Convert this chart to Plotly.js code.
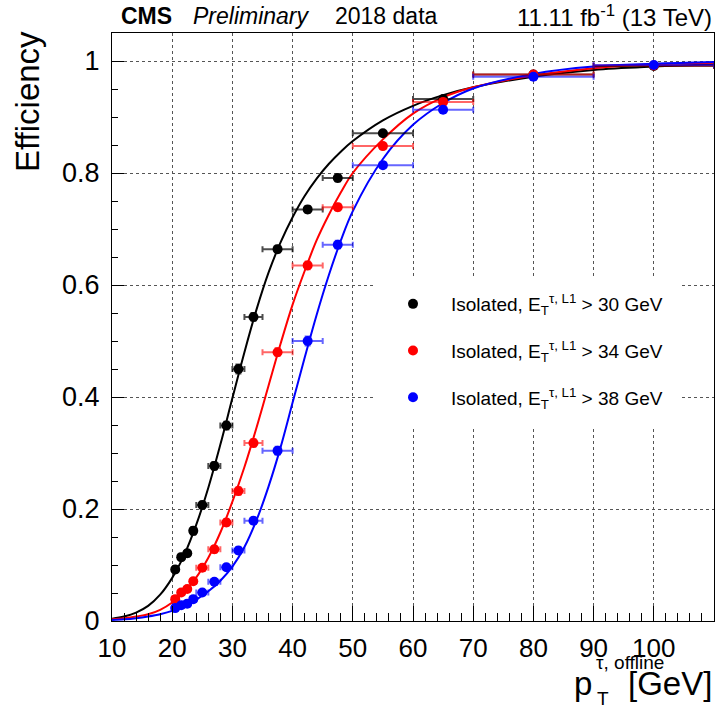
<!DOCTYPE html>
<html>
<head>
<meta charset="utf-8">
<script src="https://cdn.plot.ly/plotly-3.0.1.min.js"></script>
<style>html,body{margin:0;padding:0;background:#fff;}</style>
</head>
<body>
<div id="chart" style="width:720px;height:714px;"></div>
<script>
// ---- data ----
const ptCenter    = [20.5, 21.5, 22.5, 23.5, 25, 27, 29, 31, 33.5, 37.5, 42.5, 47.5, 55, 65, 80, 100];
const ptHalfWidth = [0.5, 0.5, 0.5, 0.5, 1, 1, 1, 1, 1.5, 2.5, 2.5, 2.5, 5, 5, 10, 10];

const effIso30 = [0.092, 0.114, 0.121, 0.161, 0.207, 0.277, 0.349, 0.450, 0.543, 0.664, 0.735, 0.791, 0.871, 0.932, 0.976, 0.991];
const effIso34 = [0.039, 0.051, 0.057, 0.071, 0.095, 0.128, 0.176, 0.232, 0.318, 0.480, 0.635, 0.739, 0.848, 0.927, 0.976, 0.992];
const effIso38 = [0.023, 0.028, 0.031, 0.039, 0.051, 0.070, 0.096, 0.126, 0.179, 0.304, 0.500, 0.672, 0.814, 0.913, 0.972, 0.993];

const errIso30 = [0.006, 0.006, 0.006, 0.007, 0.006, 0.007, 0.007, 0.008, 0.007, 0.006, 0.006, 0.006, 0.004, 0.004, 0.003, 0.003];
const errIso34 = [0.004, 0.004, 0.004, 0.005, 0.005, 0.006, 0.006, 0.007, 0.007, 0.007, 0.007, 0.006, 0.005, 0.004, 0.003, 0.003];
const errIso38 = [0.003, 0.003, 0.003, 0.004, 0.004, 0.005, 0.005, 0.006, 0.006, 0.007, 0.008, 0.007, 0.005, 0.004, 0.003, 0.003];

// fitted curves
const fitPt    = [10, 12, 14, 16, 18, 20, 22, 24, 26, 28, 30, 32, 34, 36, 38, 40, 42, 44, 46, 48, 50, 55, 60, 65, 70, 80, 90, 100, 110];
const fitIso30 = [0.004, 0.008, 0.015, 0.027, 0.047, 0.077, 0.118, 0.172, 0.238, 0.315, 0.398, 0.480, 0.556, 0.622, 0.676, 0.721, 0.759, 0.790, 0.816, 0.838, 0.857, 0.894, 0.920, 0.939, 0.953, 0.972, 0.984, 0.990, 0.994];
const fitIso34 = [0.003, 0.005, 0.008, 0.012, 0.020, 0.033, 0.052, 0.078, 0.113, 0.158, 0.213, 0.275, 0.345, 0.420, 0.495, 0.565, 0.625, 0.680, 0.725, 0.765, 0.800, 0.860, 0.906, 0.935, 0.953, 0.974, 0.987, 0.994, 0.997];
const fitIso38 = [0.002, 0.003, 0.005, 0.008, 0.012, 0.018, 0.026, 0.038, 0.053, 0.072, 0.097, 0.132, 0.180, 0.240, 0.310, 0.390, 0.470, 0.547, 0.617, 0.679, 0.732, 0.825, 0.886, 0.925, 0.951, 0.977, 0.990, 0.995, 0.998];

const seriesNames = [
  'Isolated, E<sub>T</sub><sup>τ, L1</sup> &gt; 30 GeV',
  'Isolated, E<sub>T</sub><sup>τ, L1</sup> &gt; 34 GeV',
  'Isolated, E<sub>T</sub><sup>τ, L1</sup> &gt; 38 GeV'
];

// ---- styling ----
const colors   = ['#000000', '#ff0000', '#0000ff'];
const barCols  = ['rgba(0,0,0,0.7)', 'rgba(255,0,0,0.6)', 'rgba(0,0,255,0.6)'];
const effs = [effIso30, effIso34, effIso38];
const errs = [errIso30, errIso34, errIso38];
const fits = [fitIso30, fitIso34, fitIso38];

const FONT = 'Liberation Sans, Arial, Helvetica, sans-serif';
const W = 720, H = 714;
const M = {l: 112, r: 6, t: 33, b: 93};
const PW = W - M.l - M.r, PH = H - M.t - M.b;
const px2x = p => (p - M.l) / PW;
const px2y = p => (H - M.b - p) / PH;

const traces = [];
for (let i = 0; i < 3; i++) {
  traces.push({
    type: 'scatter', mode: 'lines', x: fitPt, y: fits[i],
    line: {color: colors[i], width: 2, shape: 'spline', smoothing: 1},
    showlegend: false, hoverinfo: 'skip'
  });
}
for (let i = 0; i < 3; i++) {
  traces.push({
    type: 'scatter', mode: 'markers', x: ptCenter, y: effs[i],
    name: seriesNames[i], legendgroup: 'g' + i,
    marker: {color: colors[i], size: 10, symbol: 'circle'},
    error_x: {type: 'data', array: ptHalfWidth, color: barCols[i], thickness: 2, width: 3},
    error_y: {type: 'data', array: errs[i], color: barCols[i], thickness: 2, width: 3}
  });
}

const layout = {
  width: W, height: H,
  margin: {l: M.l, r: M.r, t: M.t, b: M.b, pad: 0},
  paper_bgcolor: '#ffffff', plot_bgcolor: '#ffffff',
  font: {family: FONT, color: '#000'},
  showlegend: true,
  legend: {
    x: px2x(375), xanchor: 'left', y: px2y(285), yanchor: 'top',
    bgcolor: 'rgba(0,0,0,0)', borderwidth: 0,
    font: {family: FONT, size: 19, color: '#000'},
    tracegroupgap: 19, itemwidth: 66
  },
  shapes: [
    // white legend box that hides the grid behind the legend
    {type: 'rect', xref: 'paper', yref: 'paper', layer: 'above',
     x0: px2x(373), x1: px2x(679), y0: px2y(427), y1: px2y(278),
     fillcolor: '#ffffff', line: {width: 0}}
  ],
  xaxis: {
    range: [10, 110], tick0: 10, dtick: 10,
    ticks: 'inside', ticklen: 15, tickwidth: 1, tickcolor: '#000',
    minor: {dtick: 2, ticks: 'inside', ticklen: 8, tickcolor: '#000', showgrid: false},
    showgrid: true, gridcolor: '#555', griddash: 'dot', gridwidth: 1,
    showline: true, linecolor: '#000', linewidth: 1, mirror: true, zeroline: false,
    tickfont: {family: FONT, size: 26, color: '#000'}, ticklabelstandoff: 4
  },
  yaxis: {
    range: [0, 1.05],
    tickvals: [0, 0.2, 0.4, 0.6, 0.8, 1], ticktext: ['0', '0.2', '0.4', '0.6', '0.8', '1'],
    ticks: 'inside', ticklen: 12, tickwidth: 1, tickcolor: '#000',
    minor: {dtick: 0.05, ticks: 'inside', ticklen: 6, tickcolor: '#000', showgrid: false},
    showgrid: true, gridcolor: '#555', griddash: 'dot', gridwidth: 1,
    showline: true, linecolor: '#000', linewidth: 1, mirror: true, zeroline: false,
    tickfont: {family: FONT, size: 27, color: '#000'}, ticklabelstandoff: 6
  },
  annotations: [
    {xref: 'paper', yref: 'paper', x: px2x(119), y: px2y(16), xanchor: 'left', yanchor: 'middle', showarrow: false,
     text: '<b>CMS</b>', font: {family: FONT, size: 23}},
    {xref: 'paper', yref: 'paper', x: px2x(191), y: px2y(16), xanchor: 'left', yanchor: 'middle', showarrow: false,
     text: '<i>Preliminary</i>', font: {family: FONT, size: 23}},
    {xref: 'paper', yref: 'paper', x: px2x(333), y: px2y(16), xanchor: 'left', yanchor: 'middle', showarrow: false,
     text: '2018 data', font: {family: FONT, size: 23}},
    {xref: 'paper', yref: 'paper', x: 1, y: px2y(16), xanchor: 'right', yanchor: 'middle', showarrow: false,
     text: '11.11 fb<sup>-1</sup> (13 TeV)', font: {family: FONT, size: 24}},
    // y-axis title
    {xref: 'paper', yref: 'paper', x: px2x(28), y: px2y(102), xanchor: 'center', yanchor: 'middle', showarrow: false,
     textangle: -90, text: 'Efficiency', font: {family: FONT, size: 33}},
    // x-axis title (stacked super/subscript as in the original)
    {xref: 'paper', yref: 'paper', x: px2x(572), y: px2y(683), xanchor: 'left', yanchor: 'middle', showarrow: false,
     text: 'p', font: {family: FONT, size: 33}},
    {xref: 'paper', yref: 'paper', x: px2x(594), y: px2y(662), xanchor: 'left', yanchor: 'middle', showarrow: false,
     text: 'τ, offline', font: {family: FONT, size: 19}},
    {xref: 'paper', yref: 'paper', x: px2x(595), y: px2y(698), xanchor: 'left', yanchor: 'middle', showarrow: false,
     text: 'T', font: {family: FONT, size: 19}},
    {xref: 'paper', yref: 'paper', x: 1, y: px2y(683), xanchor: 'right', yanchor: 'middle', showarrow: false,
     text: '[GeV]', font: {family: FONT, size: 33}}
  ]
};

Plotly.newPlot('chart', traces, layout, {displayModeBar: false, staticPlot: true});
</script>
</body>
</html>
